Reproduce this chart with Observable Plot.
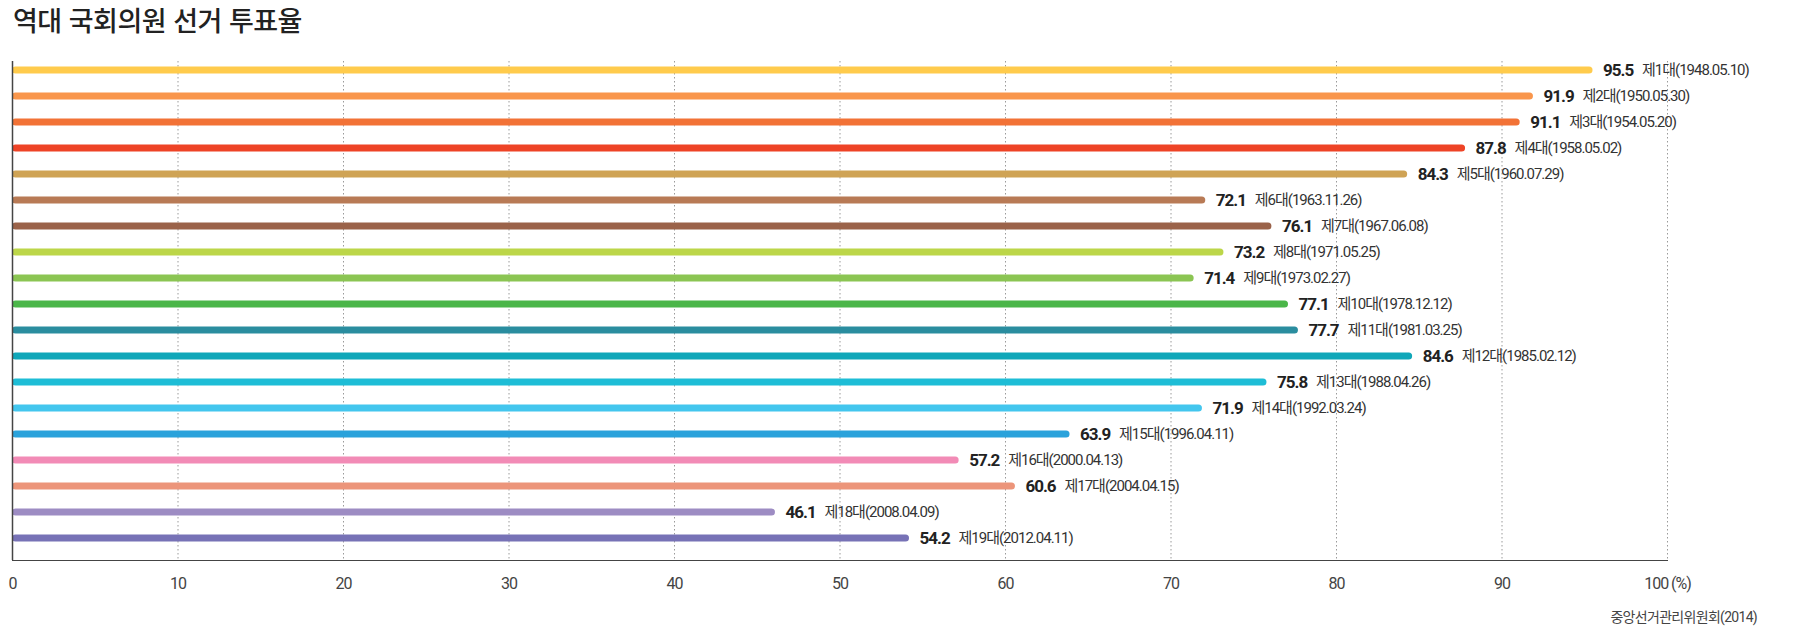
<!DOCTYPE html>
<html lang="ko">
<head>
<meta charset="utf-8">
<script src="https://cdn.jsdelivr.net/npm/d3@7"></script>
<script src="https://cdn.jsdelivr.net/npm/@observablehq/plot@0.6"></script>
<style>
  html, body { margin: 0; padding: 0; background: #fff; }
  #wrap { width: 1799px; height: 635px; position: relative; overflow: hidden; }
  #title { height: 44px; line-height: 40px; padding-left: 13px; font-family: "Noto Sans CJK KR", sans-serif; font-size: 27px; font-weight: 500; color: #222; letter-spacing: -0.5px; }
  #chart svg { display: block; }
  #caption { height: 35px; line-height: 34px; text-align: right; padding-right: 42px; font-family: Roboto, "Noto Sans CJK KR", sans-serif; font-size: 14px; color: #444; letter-spacing: -0.7px; }
</style>
</head>
<body>
<div id="wrap">
  <div id="title">역대 국회의원 선거 투표율</div>
  <div id="chart"></div>
  <div id="caption">중앙선거관리위원회(2014)</div>
</div>
<script>
const terms = ["제1대","제2대","제3대","제4대","제5대","제6대","제7대","제8대","제9대","제10대","제11대","제12대","제13대","제14대","제15대","제16대","제17대","제18대","제19대"];
const dates = ["1948.05.10","1950.05.30","1954.05.20","1958.05.02","1960.07.29","1963.11.26","1967.06.08","1971.05.25","1973.02.27","1978.12.12","1981.03.25","1985.02.12","1988.04.26","1992.03.24","1996.04.11","2000.04.13","2004.04.15","2008.04.09","2012.04.11"];
const turnout = [95.5, 91.9, 91.1, 87.8, 84.3, 72.1, 76.1, 73.2, 71.4, 77.1, 77.7, 84.6, 75.8, 71.9, 63.9, 57.2, 60.6, 46.1, 54.2];
const barColors = ["#FFCB4C","#F9964C","#F27236","#EE4326","#CFA355","#B87A55","#9A6249","#BCD649","#8BC553","#4BB649","#2A8D9F","#10A7B9","#1EBDD6","#43C6EE","#2AA2DB","#F28BB6","#EC957A","#9D8CC3","#7772B6"];
const xTicks = [0, 10, 20, 30, 40, 50, 60, 70, 80, 90, 100];

const rows = terms.map((t, i) => ({term: t, date: dates[i], turnout: turnout[i], color: barColors[i]}));

const font = "Roboto, 'Noto Sans CJK KR', sans-serif";

const chart = Plot.plot({
  width: 1799,
  height: 556,
  marginLeft: 12,
  marginRight: 132,
  marginTop: 17,
  marginBottom: 40,
  style: {fontFamily: font, fontSize: "16px", color: "#444", background: "#fff", letterSpacing: "-1px"},
  x: {domain: [0, 100], ticks: xTicks, tickSize: 0, tickPadding: 17, line: true, label: null,
      tickFormat: d => d === 100 ? "100 (%)" : String(d)},
  y: {domain: terms, type: "band", padding: 0, range: [12, 507.4], axis: null},
  color: {type: "identity"},
  marks: [
    Plot.ruleX(xTicks.filter(t => t > 0), {stroke: "#9a9a9a", strokeWidth: 1, strokeDasharray: "1.5,2.5"}),
    Plot.barX(rows, {x: "turnout", y: "term", fill: "color", insetTop: 9.5, insetBottom: 9.5, rx: 3.5}),
    Plot.ruleX([0], {stroke: "#444", strokeWidth: 1.5}),
    Plot.text(rows, {x: "turnout", y: "term", text: d => d.turnout.toFixed(1), dx: 10, textAnchor: "start",
      fontWeight: "bold", fontSize: 17, fill: "#222", fontFamily: font, letterSpacing: "-0.9px"}),
    Plot.text(rows, {x: "turnout", y: "term", text: d => `${d.term}(${d.date})`, dx: 49, textAnchor: "start",
      fontSize: 15, fill: "#333", fontFamily: font, letterSpacing: "-0.6px"})
  ]
});
document.getElementById("chart").appendChild(chart);
</script>
</body>
</html>
